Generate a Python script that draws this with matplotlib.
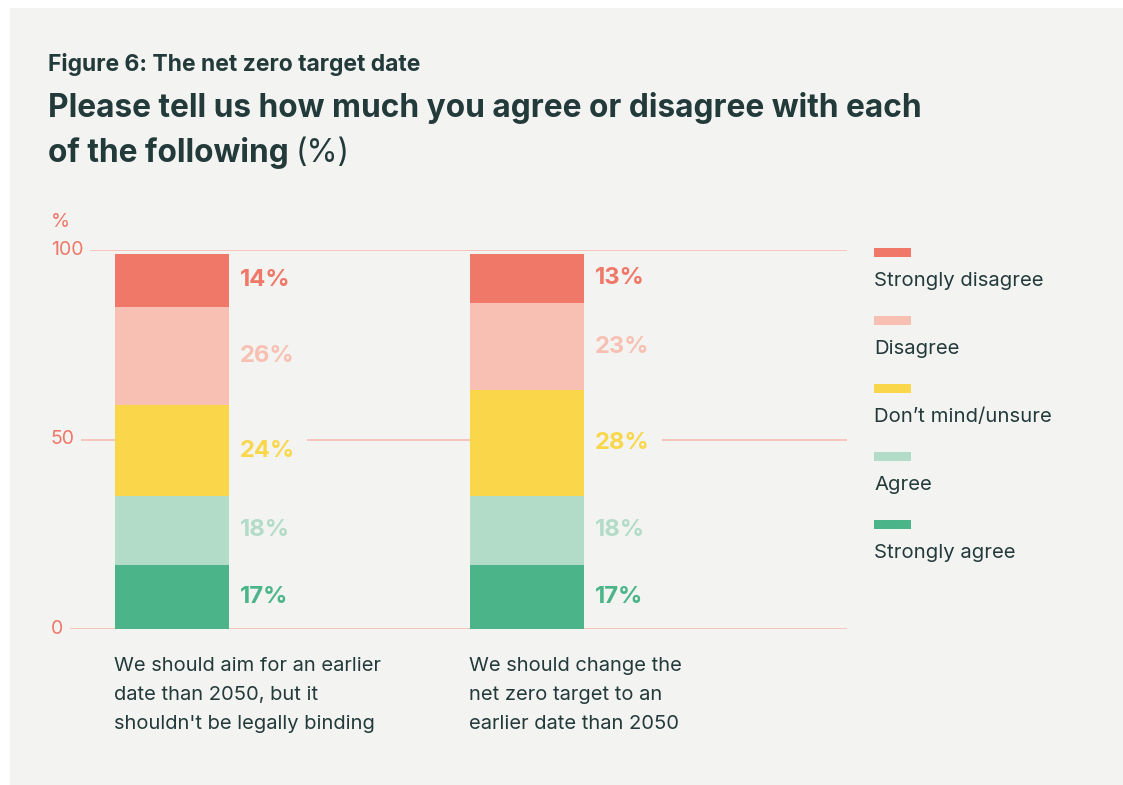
import matplotlib
matplotlib.use("Agg")
import matplotlib.pyplot as plt
from matplotlib.patches import Rectangle
import numpy as np

plt.rcParams['font.family'] = ['Inter', 'DejaVu Sans']

# --- data -------------------------------------------------------------
categories = [
    "We should aim for an earlier\ndate than 2050, but it\nshouldn't be legally binding",
    "We should change the\nnet zero target to an\nearlier date than 2050",
]
responses = ["Strongly agree", "Agree", "Don\u2019t mind/unsure", "Disagree", "Strongly disagree"]
strongly_agree = [17, 17]
agree = [18, 18]
unsure = [24, 28]
disagree = [26, 23]
strongly_disagree = [14, 13]
y_ticks = [0, 50, 100]

colors = ["#4bb589", "#b3dcc8", "#fad74a", "#f8c0b2", "#ef7868"]
series = [strongly_agree, agree, unsure, disagree, strongly_disagree]

BG = "#f3f4f2"
DARK = "#233a3a"
SALMON = "#ef7868"
GRID = "#f8c4ba"

W, H = 1123, 785
fig = plt.figure(figsize=(W / 100, H / 100), dpi=100, facecolor="white")


def fx(px):
    return px / W


def fy(py):
    return 1 - py / H


# background panel
fig.patches.append(Rectangle((fx(10), fy(785)), fx(1113), 777 / H,
                             transform=fig.transFigure, facecolor=BG,
                             edgecolor="none", zorder=-5))

# plot area: x 70..847 px, y 629 (0%) .. 250 (100%)
ax = fig.add_axes([fx(70), fy(629), fx(777), (629 - 250) / H])
ax.set_zorder(2)
ax.set_facecolor("none")
for s in ax.spines.values():
    s.set_visible(False)
ax.set_xticks([])
ax.set_yticks([])

unit = 355.0  # px per category step
x_left = (70 - 172) / unit
x_right = (847 - 172) / unit
ax.set_xlim(x_left, x_right)
ax.set_ylim(0, 100)

x = np.arange(len(categories))
bar_w = 114 / unit

# gridlines, each starting just right of its tick label
grid_start_px = {0: 70, 50: 82, 100: 91}
for t in y_ticks:
    xmin = (grid_start_px[t] - 70) / 777
    ax.axhline(t, xmin=xmin, xmax=1, color=GRID, lw=1.4, zorder=1)
    ax.text((51 - 70) / 777, t, str(t), transform=ax.get_yaxis_transform(),
            ha="left", va="center", fontsize=14, color=SALMON)
ax.text((51 - 70) / 777, 100 + 28 / 3.79, "%", transform=ax.get_yaxis_transform(),
        ha="left", va="center", fontsize=14, color=SALMON)

bottom = np.zeros(len(categories))
for vals, col in zip(series, colors):
    vals = np.array(vals, dtype=float)
    ax.bar(x, vals, width=bar_w, bottom=bottom, color=col, zorder=3,
           align="center", linewidth=0)
    for xi, b, v in zip(x, bottom, vals):
        ax.text(xi + bar_w / 2 + 11 / unit, b + v / 2, f"{int(v)}%",
                ha="left", va="center", fontsize=17.2, fontweight="bold",
                color=col, zorder=2,
                bbox=dict(boxstyle="square,pad=0.5", facecolor=BG,
                          edgecolor="none"))
    bottom += vals

# category labels under the bars
for xi, lab in zip(x, categories):
    ax.text(xi - bar_w / 2 - 1 / unit, -(657 - 629) / 3.79, lab,
            ha="left", va="top", fontsize=14.5, color=DARK, linespacing=1.77,
            clip_on=False)

# legend: swatch above each label, top item first
for i, (name, col) in enumerate(zip(responses[::-1], colors[::-1])):
    top = 248 + i * 68
    fig.patches.append(Rectangle((fx(874), fy(top + 9)), fx(37), 9 / H,
                                 transform=fig.transFigure, facecolor=col,
                                 edgecolor="none", zorder=2))
    fig.text(fx(874), fy(top + 33), name, ha="left", va="center",
             fontsize=14.6, color=DARK)

# headings
fig.text(fx(48), fy(71), "Figure 6: The net zero target date", ha="left",
         va="baseline", fontsize=16.5, fontweight="bold", color=DARK)
fig.text(fx(48), fy(117), "Please tell us how much you agree or disagree with each",
         ha="left", va="baseline", fontsize=22.8, fontweight="bold", color=DARK)
t1 = fig.text(fx(48), fy(162), "of the following", ha="left", va="baseline",
              fontsize=22.8, fontweight="bold", color=DARK)
fig.canvas.draw()
bb = t1.get_window_extent()
fig.text(bb.x1 / W + fx(7), fy(162), "(%)", ha="left", va="baseline",
         fontsize=22.8, color=DARK)

fig.savefig("out.png", dpi=100, facecolor="white")
